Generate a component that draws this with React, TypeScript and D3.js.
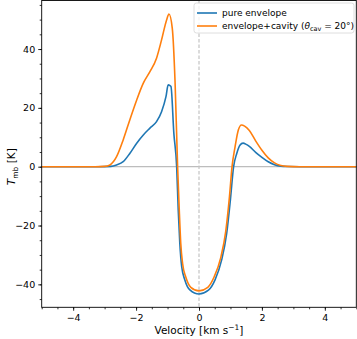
import React, { useEffect, useRef } from 'react';
import * as d3 from 'd3';

// pure envelope profile
const envelopeVel = [-5, -3.2, -2.8, -2.62, -2.41, -2.2, -1.98, -1.77, -1.56, -1.35, -1.19, -1.05, -0.98, -0.93, -0.89, -0.8, -0.71, -0.66, -0.61, -0.55, -0.45, -0.29, 0, 0.3, 0.51, 0.72, 0.88, 1.0, 1.1, 1.2, 1.3, 1.4, 1.5, 1.6, 1.8, 2.0, 2.2, 2.4, 2.6, 2.8, 3.2, 5];
const envelopeT = [0, 0, 0.1, 0.6, 1.7, 4.5, 8, 10.8, 13.1, 15.3, 18.7, 23.8, 27.8, 27.6, 27.2, 11.4, 0, -14.7, -26, -34, -38.5, -41.9, -43.3, -42, -38.5, -31.7, -22.7, -11, 0, 4.5, 7.3, 8.0, 7.6, 6.9, 4.9, 3.2, 1.7, 0.7, 0.2, 0.05, 0, 0];

// envelope + cavity profile
const cavityVel = [-5, -3.3, -3.0, -2.83, -2.62, -2.41, -2.2, -1.98, -1.77, -1.56, -1.35, -1.19, -1.03, -0.955, -0.85, -0.76, -0.68, -0.63, -0.58, -0.52, -0.42, -0.26, 0, 0.28, 0.48, 0.69, 0.85, 0.97, 1.05, 1.15, 1.25, 1.35, 1.45, 1.6, 1.8, 2.0, 2.2, 2.4, 2.6, 2.8, 3.2, 5];
const cavityT = [0, 0, 0.1, 0.6, 3.4, 9.1, 15.9, 22.7, 28.4, 32.3, 36.9, 43.1, 49.9, 51.9, 47.1, 28.5, 0, -14, -26, -33, -37.5, -41, -42.2, -41, -37.5, -31, -22, -10, 0, 7, 12.5, 14.2, 13.8, 12.3, 8.8, 5.6, 3, 1.3, 0.4, 0.1, 0, 0];

const xTicks = [-4, -2, 0, 2, 4];
const yTicks = [-40, -20, 0, 20, 40];

const blue = '#1f77b4';
const orange = '#ff7f0e';

const App = () => {
  const ref = useRef<SVGSVGElement>(null);

  useEffect(() => {
    const width = 357;
    const height = 339;
    const margin = { top: 0.5, right: 0.7, bottom: 31.7, left: 41.7 };
    const innerWidth = width - margin.left - margin.right;
    const innerHeight = height - margin.top - margin.bottom;

    const svg = d3.select(ref.current)
      .attr('width', width)
      .attr('height', height);

    svg.selectAll('*').remove();

    const g = svg.append('g').attr('transform', `translate(${margin.left},${margin.top})`);

    const x = d3.scaleLinear().domain([-5, 5]).range([0, innerWidth]);
    const y = d3.scaleLinear().domain([-47.8, 56.5]).range([innerHeight, 0]);

    const font = 'DejaVu Sans, sans-serif';

    // zero lines
    g.append('line')
      .attr('x1', 0).attr('x2', innerWidth)
      .attr('y1', y(0)).attr('y2', y(0))
      .attr('stroke', '#bdbdbd').attr('stroke-width', 1.3);
    g.append('line')
      .attr('x1', x(0)).attr('x2', x(0))
      .attr('y1', 0).attr('y2', innerHeight)
      .attr('stroke', '#c4c4c4').attr('stroke-width', 1.2)
      .attr('stroke-dasharray', '3.5,2');

    const line = d3.line<number>()
      .curve(d3.curveMonotoneX);

    g.append('path')
      .datum(envelopeT)
      .attr('fill', 'none')
      .attr('stroke', blue)
      .attr('stroke-width', 1.6)
      .attr('d', line.x((_, i) => x(envelopeVel[i])).y(d => y(d)));

    g.append('path')
      .datum(cavityT)
      .attr('fill', 'none')
      .attr('stroke', orange)
      .attr('stroke-width', 1.6)
      .attr('d', line.x((_, i) => x(cavityVel[i])).y(d => y(d)));

    // frame
    g.append('rect')
      .attr('width', innerWidth).attr('height', innerHeight)
      .attr('fill', 'none').attr('stroke', '#000').attr('stroke-width', 0.9);

    // X-axis
    const xAxis = g.append('g').attr('transform', `translate(0,${innerHeight})`);
    xAxis.call(d3.axisBottom(x).tickValues(d3.range(-5, 5.01, 0.5)).tickSize(2).tickFormat(() => ''));
    xAxis.append('g').call(d3.axisBottom(x).tickValues(xTicks).tickSize(3.5).tickPadding(3)
      .tickFormat(d => d3.format('d')(d as number).replace('-', '\u2212')));
    xAxis.selectAll('.domain').remove();
    xAxis.selectAll('text').attr('font-family', font).attr('font-size', 9.5).attr('fill', '#000');
    xAxis.selectAll('line').attr('stroke-width', 0.8);

    // Y-axis
    const yAxis = g.append('g');
    yAxis.call(d3.axisLeft(y).tickValues(d3.range(-45, 56, 5)).tickSize(2).tickFormat(() => ''));
    yAxis.append('g').call(d3.axisLeft(y).tickValues(yTicks).tickSize(3.5).tickPadding(3)
      .tickFormat(d => d3.format('d')(d as number).replace('-', '\u2212')));
    yAxis.selectAll('.domain').remove();
    yAxis.selectAll('text').attr('font-family', font).attr('font-size', 9.5).attr('fill', '#000');
    yAxis.selectAll('line').attr('stroke-width', 0.8);

    // axis labels
    const xl = svg.append('text')
      .attr('x', margin.left + innerWidth / 2)
      .attr('y', 334)
      .attr('text-anchor', 'middle')
      .attr('font-family', font)
      .attr('font-size', 10.5);
    xl.append('tspan').text('Velocity [km s');
    xl.append('tspan').attr('dy', -4).attr('font-size', 7.5).text('\u22121');
    xl.append('tspan').attr('dy', 4).text(']');

    const yl = svg.append('text')
      .attr('transform', `translate(15,${margin.top + y(0)}) rotate(-90)`)
      .attr('text-anchor', 'middle')
      .attr('font-family', font)
      .attr('font-size', 10.5);
    yl.append('tspan').attr('font-style', 'italic').text('T');
    yl.append('tspan').attr('dy', 2.5).attr('font-size', 7.5).text('mb');
    yl.append('tspan').attr('dy', -2.5).text(' [K]');

    // legend
    const lg = svg.append('g').attr('transform', 'translate(194,3)');
    lg.append('rect')
      .attr('width', 160).attr('height', 30).attr('rx', 2.5)
      .attr('fill', '#fff').attr('fill-opacity', 0.8)
      .attr('stroke', '#d6d6d6').attr('stroke-width', 0.8);
    const items = [
      { color: blue, label: 'pure envelope' },
      { color: orange, label: 'envelope+cavity' }
    ];
    items.forEach((it, i) => {
      const yy = 10 + i * 13;
      lg.append('line')
        .attr('x1', 3).attr('x2', 23).attr('y1', yy).attr('y2', yy)
        .attr('stroke', it.color).attr('stroke-width', 1.6);
      const t = lg.append('text')
        .attr('x', 28).attr('y', yy + 3.3)
        .attr('font-family', font).attr('font-size', 9);
      t.append('tspan').text(it.label);
      if (i === 1) {
        t.append('tspan').text(' (');
        t.append('tspan').attr('font-style', 'italic').text('\u03b8');
        t.append('tspan').attr('dy', 2).attr('font-size', 6.5).text('cav');
        t.append('tspan').attr('dy', -2).text(' = 20\u00b0)');
      }
    });
  }, []);

  return <svg ref={ref} style={{ position: 'absolute', left: 0, top: 0 }} />;
};

export default App;
